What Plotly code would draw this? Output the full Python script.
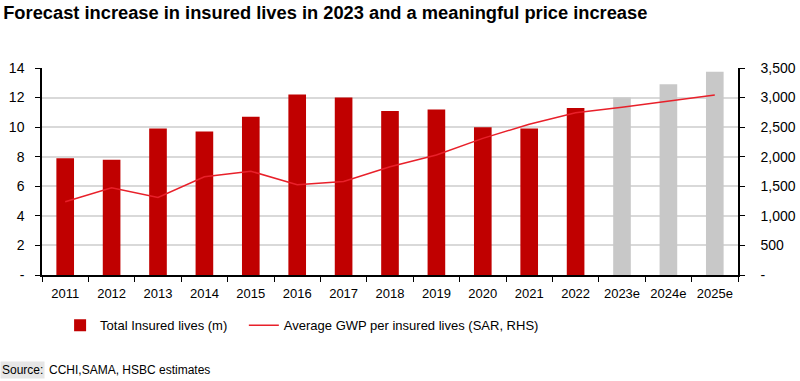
import plotly.graph_objects as go

years = ["2011", "2012", "2013", "2014", "2015", "2016", "2017", "2018",
         "2019", "2020", "2021", "2022", "2023e", "2024e", "2025e"]
insured_lives = [7.9, 7.8, 9.9, 9.7, 10.7, 12.2, 12.0, 11.1, 11.2, 10.0, 9.9, 11.3, 12.0, 12.9, 13.75]
avg_gwp = [1240, 1475, 1310, 1660, 1755, 1525, 1580, 1830, 2030, 2310, 2550, 2745, 2835, 2940, 3045]
bar_colors = ["#C00000"] * 12 + ["#C8C8C8"] * 3

left_ticks = [0, 2, 4, 6, 8, 10, 12, 14]
left_text = ["-", "2", "4", "6", "8", "10", "12", "14"]
right_ticks = [0, 500, 1000, 1500, 2000, 2500, 3000, 3500]
right_text = ["-", "500", "1,000", "1,500", "2,000", "2,500", "3,000", "3,500"]

FONT = "Liberation Sans, Arial"

fig = go.Figure()
fig.add_trace(go.Bar(
    x=years, y=insured_lives, name="Total Insured lives (m)",
    marker=dict(color=bar_colors, line=dict(width=0)), width=0.38,
    legend="legend",
))
fig.add_trace(go.Scatter(
    x=years, y=avg_gwp, name="Average GWP per insured lives (SAR, RHS)",
    mode="lines", line=dict(color="#E8202A", width=1.5), yaxis="y2",
    legend="legend2",
))

fig.update_layout(
    width=800, height=381,
    margin=dict(l=42, r=62, t=68, b=106, autoexpand=False),
    paper_bgcolor="white", plot_bgcolor="white",
    font=dict(family=FONT, size=13, color="#000000"),
    title=dict(text="<b>Forecast increase in insured lives in 2023 and a meaningful price increase</b>",
               x=0.004, xanchor="left", xref="container", y=0.985, yanchor="top", yref="container",
               font=dict(family=FONT, size=18.3, color="#000000"), pad=dict(l=0, t=0)),
    showlegend=True,
    legend=dict(orientation="h", x=0.026, y=-0.17, xanchor="left", yanchor="top",
                font=dict(family=FONT, size=13), bgcolor="rgba(0,0,0,0)"),
    legend2=dict(orientation="h", x=0.29, y=-0.17, xanchor="left", yanchor="top",
                 font=dict(family=FONT, size=13), bgcolor="rgba(0,0,0,0)"),
    bargap=0.62,
    xaxis=dict(type="category", showline=True, linecolor="#000000", linewidth=1.5,
               ticks="outside", tickson="boundaries", ticklen=5, tickcolor="#000000",
               showgrid=False, tickangle=0, ticklabelstandoff=6,
               tickfont=dict(family=FONT, size=13)),
    yaxis=dict(range=[0, 14], tickvals=left_ticks, ticktext=left_text,
               showline=True, linecolor="#000000", linewidth=1.5,
               ticks="outside", ticklen=5, tickcolor="#000000",
               showgrid=True, gridcolor="#D9D9D9", gridwidth=1.5, zeroline=False,
               ticklabelstandoff=8, tickfont=dict(family=FONT, size=14)),
    yaxis2=dict(range=[0, 3500], tickvals=right_ticks, ticktext=right_text,
                overlaying="y", side="right",
                showline=True, linecolor="#000000", linewidth=1.5,
                ticks="outside", ticklen=5, tickcolor="#000000",
                showgrid=False, zeroline=False, ticklabelstandoff=13,
                tickfont=dict(family=FONT, size=14)),
)

fig.add_annotation(text="Source:", xref="paper", yref="paper", x=0.0, y=-0.459,
                   xanchor="left", yanchor="middle", showarrow=False,
                   font=dict(family=FONT, size=12), bgcolor="#E6E6E6",
                   xshift=-42, borderpad=1)
fig.add_annotation(text="CCHI,SAMA, HSBC estimates", xref="paper", yref="paper", x=0.0, y=-0.459,
                   xanchor="left", yanchor="middle", showarrow=False,
                   font=dict(family=FONT, size=12), xshift=5)

fig.write_html("out.html",
               config={"displayModeBar": False},
               post_script="document.body.style.margin='0';document.body.style.overflow='hidden';")
